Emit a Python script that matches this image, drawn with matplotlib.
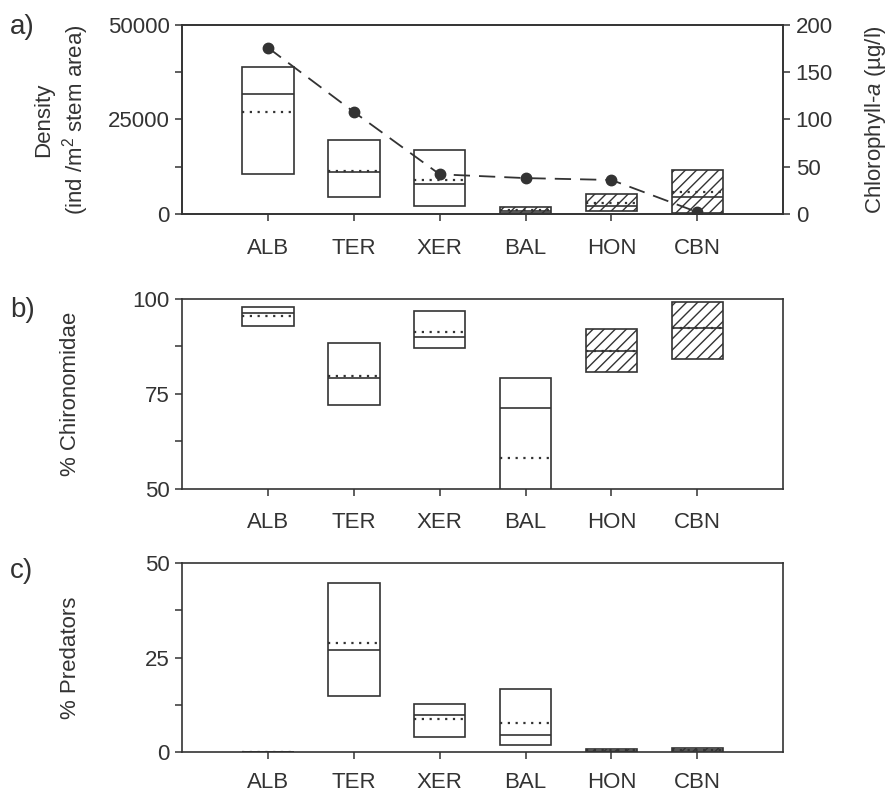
import numpy as np
import matplotlib
matplotlib.use('Agg')
import matplotlib.pyplot as plt
from matplotlib.ticker import FixedLocator

plt.rcParams['font.family'] = ['Liberation Sans', 'DejaVu Sans']
plt.rcParams['mathtext.fontset'] = 'custom'
plt.rcParams['mathtext.rm'] = 'Liberation Sans'
plt.rcParams['mathtext.it'] = 'Liberation Sans:italic'
plt.rcParams['hatch.linewidth'] = 1.0

ink = '#333333'

sites = ['ALB', 'TER', 'XER', 'BAL', 'HON', 'CBN']

# a) density (ind / m2 stem area): box bottom, top, median, mean
dens_lo = [10600, 4400, 2200, 180, 800, 340]
dens_hi = [38800, 19600, 17000, 1770, 5200, 11700]
dens_med = [31700, 11100, 8000, 900, 2200, 4500]
dens_mean = [27000, 11500, 9000, 1000, 3000, 5700]
dens_hatch = [False, False, False, True, True, True]

# chlorophyll-a (ug/l)
chl = [176, 108, 42, 38, 36, 2]

# b) % Chironomidae
chir_lo = [92.8, 72.1, 87.0, 45.0, 80.7, 84.3]
chir_hi = [97.9, 88.4, 96.9, 79.1, 92.0, 99.3]
chir_med = [96.4, 79.1, 89.9, 71.2, 86.4, 92.4]
chir_mean = [95.6, 79.7, 91.2, 58.0, 86.4, 92.4]
chir_hatch = [False, False, False, False, True, True]

# c) % Predators
pred_lo = [0.0, 14.9, 4.0, 1.8, 0.0, 0.1]
pred_hi = [0.2, 44.6, 12.7, 16.7, 0.9, 1.1]
pred_med = [0.0, 27.1, 9.8, 4.5, 0.3, 0.5]
pred_mean = [0.1, 28.8, 8.9, 7.8, 0.5, 0.6]
pred_hatch = [False, False, False, False, True, True]

x = np.arange(1, len(sites) + 1)
bw = 0.6


def boxes(ax, lo, hi, med, mean, hatch):
    lo = np.array(lo)
    hi = np.array(hi)
    bars = ax.bar(x, hi - lo, bottom=lo, width=bw, fill=False,
                  edgecolor=ink, linewidth=1.2)
    for b, h in zip(bars, hatch):
        if h:
            b.set_hatch('///')
    ax.hlines(med, x - bw / 2, x + bw / 2, color=ink, lw=1.2)
    ax.hlines(mean, x - bw / 2, x + bw / 2, color=ink, lw=1.6,
              linestyles=(0, (1, 2.5)))


def style(ax, xpad=11):
    ax.set_xlim(0, 7)
    ax.set_xticks(x)
    ax.set_xticklabels(sites)
    for s in ax.spines.values():
        s.set_color(ink)
        s.set_linewidth(1.2)
    ax.tick_params(which='both', direction='out', length=5, width=1.1,
                   color=ink, labelcolor=ink, labelsize=16)
    ax.tick_params(axis='x', pad=xpad)
    ax.tick_params(axis='y', pad=4)


fig = plt.figure(figsize=(8.88, 7.95), dpi=100)

# panel a
axa = fig.add_axes([0.205, 0.7308, 0.677, 0.2378])
boxes(axa, dens_lo, dens_hi, dens_med, dens_mean, dens_hatch)
style(axa, 12)
axa.set_ylim(0, 50000)
axa.set_yticks([0, 25000, 50000])
axa.yaxis.set_minor_locator(FixedLocator([12500, 37500]))
axa.set_ylabel('Density\n(ind /m$^2$ stem area)', fontsize=16, color=ink,
               linespacing=1.25)
axa.yaxis.set_label_coords(-0.152, 0.5)

axr = axa.twinx()
axr.plot(x, chl, color=ink, lw=1.3, dashes=(9, 5), marker='o', ms=7.5,
         mfc=ink, mec=ink)
axr.set_ylim(0, 200)
axr.set_yticks([0, 50, 100, 150, 200])
for s in axr.spines.values():
    s.set_color(ink)
    s.set_linewidth(1.2)
axr.tick_params(direction='out', length=5, width=1.1, color=ink,
                labelcolor=ink, labelsize=16, pad=4)
axr.set_ylabel('Chlorophyll-$a$ (µg/l)', fontsize=16, color=ink)
axr.yaxis.set_label_coords(1.133, 0.5)

# panel b
axb = fig.add_axes([0.205, 0.3853, 0.677, 0.2386])
boxes(axb, chir_lo, chir_hi, chir_med, chir_mean, chir_hatch)
style(axb, 12)
axb.set_ylim(50, 100)
axb.set_yticks([50, 75, 100])
axb.yaxis.set_minor_locator(FixedLocator([62.5, 87.5]))
axb.set_ylabel('% Chironomidae', fontsize=16, color=ink)
axb.yaxis.set_label_coords(-0.168, 0.5)

# panel c
axc = fig.add_axes([0.205, 0.0537, 0.677, 0.2385])
boxes(axc, pred_lo, pred_hi, pred_med, pred_mean, pred_hatch)
style(axc, 9)
axc.set_ylim(0, 50)
axc.set_yticks([0, 25, 50])
axc.yaxis.set_minor_locator(FixedLocator([12.5, 37.5]))
axc.set_ylabel('% Predators', fontsize=16, color=ink)
axc.yaxis.set_label_coords(-0.168, 0.5)

fig.text(0.011, 0.966, 'a)', fontsize=20, color=ink, va='center')
fig.text(0.011, 0.610, 'b)', fontsize=20, color=ink, va='center')
fig.text(0.011, 0.282, 'c)', fontsize=20, color=ink, va='center')

fig.savefig('out.png', dpi=100, facecolor='white')
